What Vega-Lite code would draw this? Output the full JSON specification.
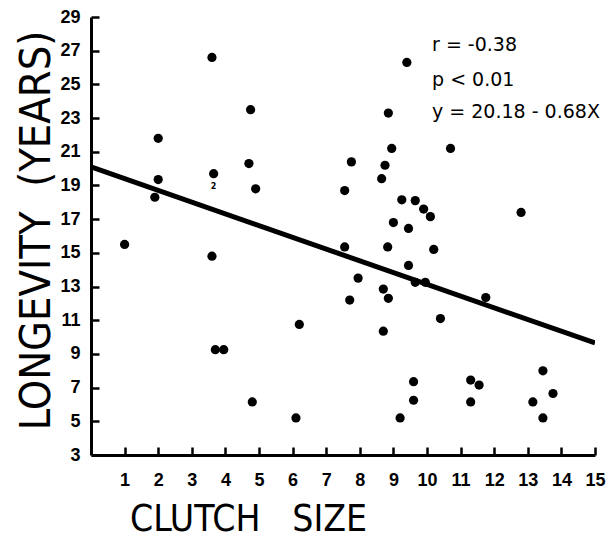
{
  "$schema": "https://vega.github.io/schema/vega-lite/v6.json",
  "width": 504,
  "height": 438,
  "autosize": "none",
  "padding": {"left": 91, "top": 17, "right": 13, "bottom": 83},
  "background": "white",
  "config": {
    "view": {"stroke": null},
    "axis": {"grid": false, "domainColor": "black", "tickColor": "black", "labelColor": "black", "titleColor": "black", "labelOverlap": false, "labelBound": false, "labelFlush": false}
  },
  "datasets": {
    "points": [
      {"clutch": 1.0, "longevity": 15.5},
      {"clutch": 2.0, "longevity": 21.8},
      {"clutch": 2.0, "longevity": 19.35},
      {"clutch": 1.9, "longevity": 18.3},
      {"clutch": 3.6, "longevity": 26.6},
      {"clutch": 3.65, "longevity": 19.7},
      {"clutch": 4.75, "longevity": 23.5},
      {"clutch": 4.7, "longevity": 20.3},
      {"clutch": 4.9, "longevity": 18.8},
      {"clutch": 3.6, "longevity": 14.8},
      {"clutch": 3.7, "longevity": 9.25},
      {"clutch": 3.95, "longevity": 9.25},
      {"clutch": 4.8, "longevity": 6.15},
      {"clutch": 6.1, "longevity": 5.2},
      {"clutch": 6.2, "longevity": 10.75},
      {"clutch": 9.4, "longevity": 26.3},
      {"clutch": 8.85, "longevity": 23.3},
      {"clutch": 8.95, "longevity": 21.2},
      {"clutch": 10.7, "longevity": 21.2},
      {"clutch": 7.75, "longevity": 20.4},
      {"clutch": 8.75, "longevity": 20.2},
      {"clutch": 8.65, "longevity": 19.4},
      {"clutch": 7.55, "longevity": 18.7},
      {"clutch": 9.25, "longevity": 18.15},
      {"clutch": 9.65, "longevity": 18.1},
      {"clutch": 9.9, "longevity": 17.6},
      {"clutch": 10.1, "longevity": 17.15},
      {"clutch": 12.8, "longevity": 17.4},
      {"clutch": 9.0, "longevity": 16.8},
      {"clutch": 9.45, "longevity": 16.45},
      {"clutch": 7.55, "longevity": 15.35},
      {"clutch": 8.83, "longevity": 15.35},
      {"clutch": 10.2, "longevity": 15.2},
      {"clutch": 9.45, "longevity": 14.25},
      {"clutch": 7.95, "longevity": 13.5},
      {"clutch": 9.65, "longevity": 13.25},
      {"clutch": 9.95, "longevity": 13.25},
      {"clutch": 8.7, "longevity": 12.85},
      {"clutch": 8.85, "longevity": 12.3},
      {"clutch": 7.7, "longevity": 12.2},
      {"clutch": 11.75, "longevity": 12.35},
      {"clutch": 10.4, "longevity": 11.1},
      {"clutch": 8.7, "longevity": 10.35},
      {"clutch": 9.6, "longevity": 7.35},
      {"clutch": 9.6, "longevity": 6.25},
      {"clutch": 9.2, "longevity": 5.2},
      {"clutch": 11.3, "longevity": 7.45},
      {"clutch": 11.55, "longevity": 7.15},
      {"clutch": 11.3, "longevity": 6.15},
      {"clutch": 13.45, "longevity": 8.0},
      {"clutch": 13.75, "longevity": 6.65},
      {"clutch": 13.15, "longevity": 6.15},
      {"clutch": 13.45, "longevity": 5.2}
    ],
    "fit": [
      {"clutch": 0, "longevity": 20.1},
      {"clutch": 15, "longevity": 9.65}
    ],
    "notes": [
      {"clutch": 10.15, "longevity": 27.33, "label": "r = -0.38"},
      {"clutch": 10.15, "longevity": 25.25, "label": "p < 0.01"},
      {"clutch": 10.15, "longevity": 23.35, "label": "y = 20.18 - 0.68X"}
    ],
    "count": [
      {"clutch": 3.65, "longevity": 18.9, "label": "2"}
    ]
  },
  "encoding": {
    "x": {
      "field": "clutch", "type": "quantitative",
      "scale": {"domain": [0, 15], "nice": false, "zero": false},
      "axis": {
        "values": [1,2,3,4,5,6,7,8,9,10,11,12,13,14,15],
        "title": "CLUTCH\u00a0\u00a0\u00a0SIZE",
        "labelOverlap": false,
        "domainWidth": 3, "tickWidth": 2.5, "tickSize": -8,
        "labelPadding": 24, "labelFont": "Liberation Sans", "labelFontWeight": "bold", "labelFontSize": 18,
        "titleFont": "DejaVu Sans Condensed, Liberation Sans Narrow, Liberation Sans, sans-serif", "titleFontWeight": "normal", "titleFontSize": 37,
        "titleX": 157, "titleY": 75, "titleAnchor": "middle", "titleAlign": "center", "titleBaseline": "alphabetic"
      }
    },
    "y": {
      "field": "longevity", "type": "quantitative",
      "scale": {"domain": [3, 29], "nice": false, "zero": false},
      "axis": {
        "values": [3,5,7,9,11,13,15,17,19,21,23,25,27,29],
        "title": "LONGEVITY\u00a0\u00a0(YEARS)",
        "labelOverlap": false,
        "domainWidth": 3, "tickWidth": 2.5, "tickSize": -8,
        "labelPadding": 19, "labelFont": "Liberation Sans", "labelFontWeight": "bold", "labelFontSize": 18,
        "titleFont": "DejaVu Sans Condensed, Liberation Sans Narrow, Liberation Sans, sans-serif", "titleFontWeight": "normal", "titleFontSize": 43,
        "titleX": -42, "titleY": 213, "titleAlign": "center", "titleBaseline": "alphabetic"
      }
    }
  },
  "layer": [
    {
      "data": {"name": "fit"},
      "mark": {"type": "line", "color": "black", "strokeWidth": 5, "clip": true}
    },
    {
      "data": {"name": "points"},
      "mark": {"type": "circle", "color": "black", "opacity": 1, "size": 85}
    },
    {
      "data": {"name": "notes"},
      "mark": {"type": "text", "align": "left", "baseline": "middle", "font": "DejaVu Sans", "fontSize": 19, "color": "black"},
      "encoding": {"text": {"field": "label"}}
    },
    {
      "data": {"name": "count"},
      "mark": {"type": "text", "align": "center", "baseline": "middle", "font": "DejaVu Sans", "fontWeight": "bold", "fontSize": 8, "color": "black"},
      "encoding": {"text": {"field": "label"}}
    }
  ]
}
